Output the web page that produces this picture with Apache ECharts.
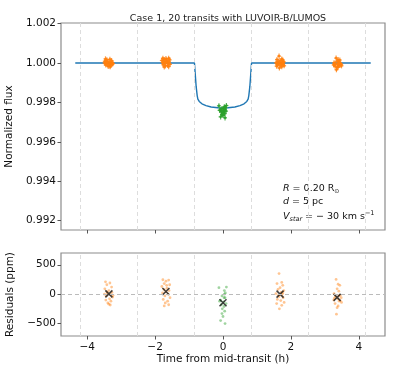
<!DOCTYPE html>
<html>
<head>
<meta charset="utf-8">
<script src="https://cdn.jsdelivr.net/npm/echarts@6.0.0/dist/echarts.min.js"></script>
<style>
  html, body { margin: 0; padding: 0; background: #fff; }
  #chart { width: 399px; height: 377px; }
</style>
</head>
<body>
<div id="chart"></div>
<script>
// transit model (hours, normalized flux)
var modelT = [-4.35, -0.84, -0.82, -0.79, -0.76, -0.74, -0.70, -0.62, -0.50, -0.35, -0.15, 0,
              0.15, 0.35, 0.50, 0.62, 0.70, 0.74, 0.76, 0.79, 0.82, 0.84, 4.35];
var modelF = [1, 1, 0.9995, 0.9988, 0.99835, 0.99817, 0.99805, 0.99793, 0.99784, 0.99777, 0.99773, 0.99772,
              0.99773, 0.99777, 0.99784, 0.99793, 0.99805, 0.99817, 0.99835, 0.9988, 0.9995, 1, 1];

// observation windows
var windowCenters = [-3.36, -1.68, 0, 1.68, 3.36];
var windowBase = [1, 1, 0.99772, 1, 1];
var windowEdges = [-4.2, -2.52, -0.84, 0.84, 2.52, 4.2];
var inTransit = [false, false, true, false, false];

// residuals per window: [time offset (h), residual (ppm)]
var res1 = [[-0.10,210],[0.03,190],[-0.06,160],[0.08,120],[-0.12,90],[0.0,60],[0.09,30],[-0.04,15],[0.05,-10],[-0.08,-30],
            [0.11,-50],[0.02,-80],[-0.09,-100],[0.06,-120],[-0.03,-150],[0.0,-170],[0.04,-185],[-0.06,40],[0.12,-20],[-0.13,0]];
var res2 = [[-0.09,245],[0.08,240],[0.0,220],[-0.05,180],[0.11,160],[-0.12,130],[0.03,100],[-0.06,80],[0.09,60],[0.0,40],
            [-0.10,20],[0.06,0],[-0.03,-30],[0.12,-60],[-0.08,-90],[0.05,-120],[-0.02,-150],[0.08,-180],[-0.05,-200],[0.02,150]];
var res3 = [[-0.12,110],[0.10,120],[0.04,60],[0.07,20],[-0.03,-30],[0.06,-60],[-0.07,-100],[0.02,-130],[0.09,-160],[-0.05,-180],
            [0.03,-210],[-0.02,-250],[0.05,-290],[-0.03,-330],[0.0,-380],[-0.07,-450],[0.06,-500],[0.04,0],[-0.10,-120],[0.03,-60]];
var res4 = [[-0.03,350],[0.05,200],[-0.09,180],[0.08,150],[0.0,110],[-0.06,80],[0.11,60],[0.03,30],[-0.12,10],[0.06,-10],
            [-0.03,-40],[0.09,-60],[-0.08,-90],[0.02,-110],[0.12,-140],[-0.10,-160],[0.05,-190],[-0.02,-250],[0.08,20],[-0.05,-20]];
var res5 = [[-0.03,250],[0.03,170],[0.08,150],[0.0,90],[0.05,50],[-0.09,10],[0.09,-20],[-0.05,-40],[0.12,-60],[0.02,-80],
            [-0.10,-100],[0.06,-120],[0.13,-140],[-0.06,-160],[0.03,-200],[0.0,-230],[-0.02,-340],[0.09,-110],[-0.08,-70],[0.05,-30]];
var residuals = [res1, res2, res3, res4, res5];
var binMeans = [5, 45, -145, 0, -55];
var errPpm = 130;

var fluxTicks = [0.992, 0.994, 0.996, 0.998, 1.000, 1.002];
var resTicks = [-500, 0, 500];
var timeTicks = [-4, -2, 0, 2, 4];

var FONT = 'DejaVu Sans';
var ORANGE = '#ff7f0e', GREEN = '#2ca02c', BLUE = '#1f77b4';

function minus(v) { return String(v).replace('-', '\u2212'); }

// build plotted points
var fluxOut = [], fluxIn = [], resOut = [], resIn = [], means = [];
residuals.forEach(function (pts, k) {
  pts.forEach(function (p) {
    var t = windowCenters[k] + p[0];
    var f = windowBase[k] + p[1] * 1e-6;
    (inTransit[k] ? fluxIn : fluxOut).push([t, f]);
    (inTransit[k] ? resIn : resOut).push([t, p[1]]);
  });
  means.push([windowCenters[k], binMeans[k]]);
});
var modelData = modelT.map(function (t, i) { return [t, modelF[i]]; });

var edgeLines = {
  silent: true, symbol: 'none', label: { show: false },
  lineStyle: { color: '#dddddd', type: [4, 3], width: 1 },
  data: windowEdges.map(function (x) { return { xAxis: x }; })
};

var errBarSize = [1.2, errPpm * 2 * 207 / (1.00203 - 0.99153) * 1e-6];

function axisBase(extra) {
  var o = {
    type: 'value',
    axisLine: { show: false, onZero: false },
    splitLine: { show: false }
  };
  for (var k in extra) o[k] = extra[k];
  return o;
}

var chart = echarts.init(document.getElementById('chart'));
chart.setOption({
  animation: false,
  textStyle: { fontFamily: FONT },
  title: {
    text: 'Case 1, 20 transits with LUVOIR-B/LUMOS',
    left: 223, top: 9, textAlign: 'center',
    textStyle: { fontFamily: FONT, fontSize: 9.5, fontWeight: 'normal', color: '#222' }
  },
  grid: [
    { left: 61, top: 23, width: 324, height: 207, show: true, borderColor: '#8c8c8c', borderWidth: 1.2, outerBoundsMode: 'none' },
    { left: 61, top: 253, width: 324, height: 83, show: true, borderColor: '#8c8c8c', borderWidth: 1.2, outerBoundsMode: 'none' }
  ],
  xAxis: [
    axisBase({
      gridIndex: 0, min: -4.77, max: 4.77, position: 'bottom',
      axisTick: { show: true, length: 3.5, lineStyle: { color: '#555' }, customValues: timeTicks },
      axisLabel: { show: false }
    }),
    axisBase({
      gridIndex: 1, min: -4.77, max: 4.77, position: 'bottom',
      axisTick: { show: true, length: 3.5, lineStyle: { color: '#555' }, customValues: timeTicks },
      axisLabel: { show: true, customValues: timeTicks, fontFamily: FONT, fontSize: 10.5, color: '#111', margin: 6, formatter: minus },
      name: 'Time from mid-transit (h)', nameLocation: 'middle', nameGap: 15,
      nameTextStyle: { fontFamily: FONT, fontSize: 10.5, color: '#111' }
    })
  ],
  yAxis: [
    axisBase({
      gridIndex: 0, min: 0.99153, max: 1.00203, position: 'left',
      axisTick: { show: true, length: 3.5, lineStyle: { color: '#555' }, customValues: fluxTicks },
      axisLabel: { show: true, customValues: fluxTicks, fontFamily: FONT, fontSize: 10.5, color: '#111', margin: 5,
                   formatter: function (v) { return v.toFixed(3); } },
      name: 'Normalized flux', nameLocation: 'middle', nameGap: 38,
      nameTextStyle: { fontFamily: FONT, fontSize: 10.5, color: '#111' }
    }),
    axisBase({
      gridIndex: 1, min: -712, max: 700, position: 'left',
      axisTick: { show: true, length: 3.5, lineStyle: { color: '#555' }, customValues: resTicks },
      axisLabel: { show: true, customValues: resTicks, fontFamily: FONT, fontSize: 10.5, color: '#111', margin: 5, formatter: minus },
      name: 'Residuals (ppm)', nameLocation: 'middle', nameGap: 38,
      nameTextStyle: { fontFamily: FONT, fontSize: 10.5, color: '#111' }
    })
  ],
  series: [
    {
      type: 'line', xAxisIndex: 0, yAxisIndex: 0, data: modelData, showSymbol: false, z: 2,
      lineStyle: { color: BLUE, width: 1.4 }, markLine: edgeLines
    },
    { type: 'scatter', xAxisIndex: 0, yAxisIndex: 0, data: fluxOut, symbol: 'rect', symbolSize: errBarSize, z: 3,
      itemStyle: { color: ORANGE } },
    { type: 'scatter', xAxisIndex: 0, yAxisIndex: 0, data: fluxOut, symbol: 'rect', symbolSize: [4, 1.2], z: 3,
      itemStyle: { color: ORANGE } },
    { type: 'scatter', xAxisIndex: 0, yAxisIndex: 0, data: fluxOut, symbol: 'circle', symbolSize: 2.5, z: 3,
      itemStyle: { color: ORANGE } },
    { type: 'scatter', xAxisIndex: 0, yAxisIndex: 0, data: fluxIn, symbol: 'rect', symbolSize: errBarSize, z: 3,
      itemStyle: { color: GREEN } },
    { type: 'scatter', xAxisIndex: 0, yAxisIndex: 0, data: fluxIn, symbol: 'rect', symbolSize: [4, 1.2], z: 3,
      itemStyle: { color: GREEN } },
    { type: 'scatter', xAxisIndex: 0, yAxisIndex: 0, data: fluxIn, symbol: 'circle', symbolSize: 2.5, z: 3,
      itemStyle: { color: GREEN } },
    {
      type: 'scatter', xAxisIndex: 1, yAxisIndex: 1, data: resOut, symbol: 'circle', symbolSize: 2.8, z: 3,
      itemStyle: { color: ORANGE, opacity: 0.45 },
      markLine: {
        silent: true, symbol: 'none', label: { show: false },
        data: windowEdges.map(function (x) { return { xAxis: x, lineStyle: { color: '#dddddd', type: [4, 3], width: 1 } }; })
          .concat([{ yAxis: 0, lineStyle: { color: '#bbbbbb', type: [4, 3], width: 1 } }])
      }
    },
    { type: 'scatter', xAxisIndex: 1, yAxisIndex: 1, data: resIn, symbol: 'circle', symbolSize: 2.8, z: 3,
      itemStyle: { color: GREEN, opacity: 0.45 } },
    { type: 'scatter', xAxisIndex: 1, yAxisIndex: 1, data: means, symbol: 'path://M0,0L10,10M10,0L0,10', symbolSize: 7, z: 4,
      itemStyle: { color: 'none', borderColor: '#111', borderWidth: 1.5 } }
  ],
  graphic: [
    { type: 'text', left: 283, top: 184, style: {
        text: '{i|R} = 0.20 R{s|\u2299}', font: '9.5px "DejaVu Sans"', fill: '#111',
        rich: { i: { fontStyle: 'italic', fontSize: 9.5, fontFamily: FONT }, s: { fontSize: 6, fontFamily: FONT, padding: [5, 0, 0, 0] } } } },
    { type: 'text', left: 283, top: 197, style: {
        text: '{i|d} = 5 pc', font: '9.5px "DejaVu Sans"', fill: '#111',
        rich: { i: { fontStyle: 'italic', fontSize: 9.5, fontFamily: FONT } } } },
    { type: 'text', left: 283, top: 210, style: {
        text: '{i|V}{s|star} = \u2212 30 km s{u|\u22121}', font: '9.5px "DejaVu Sans"', fill: '#111',
        rich: { i: { fontStyle: 'italic', fontSize: 9.5, fontFamily: FONT },
                s: { fontStyle: 'italic', fontSize: 6.5, fontFamily: FONT, padding: [5, 0, 0, 0] },
                u: { fontSize: 6.5, fontFamily: FONT, padding: [0, 0, 6, 0] } } } }
  ]
});
</script>
</body>
</html>
